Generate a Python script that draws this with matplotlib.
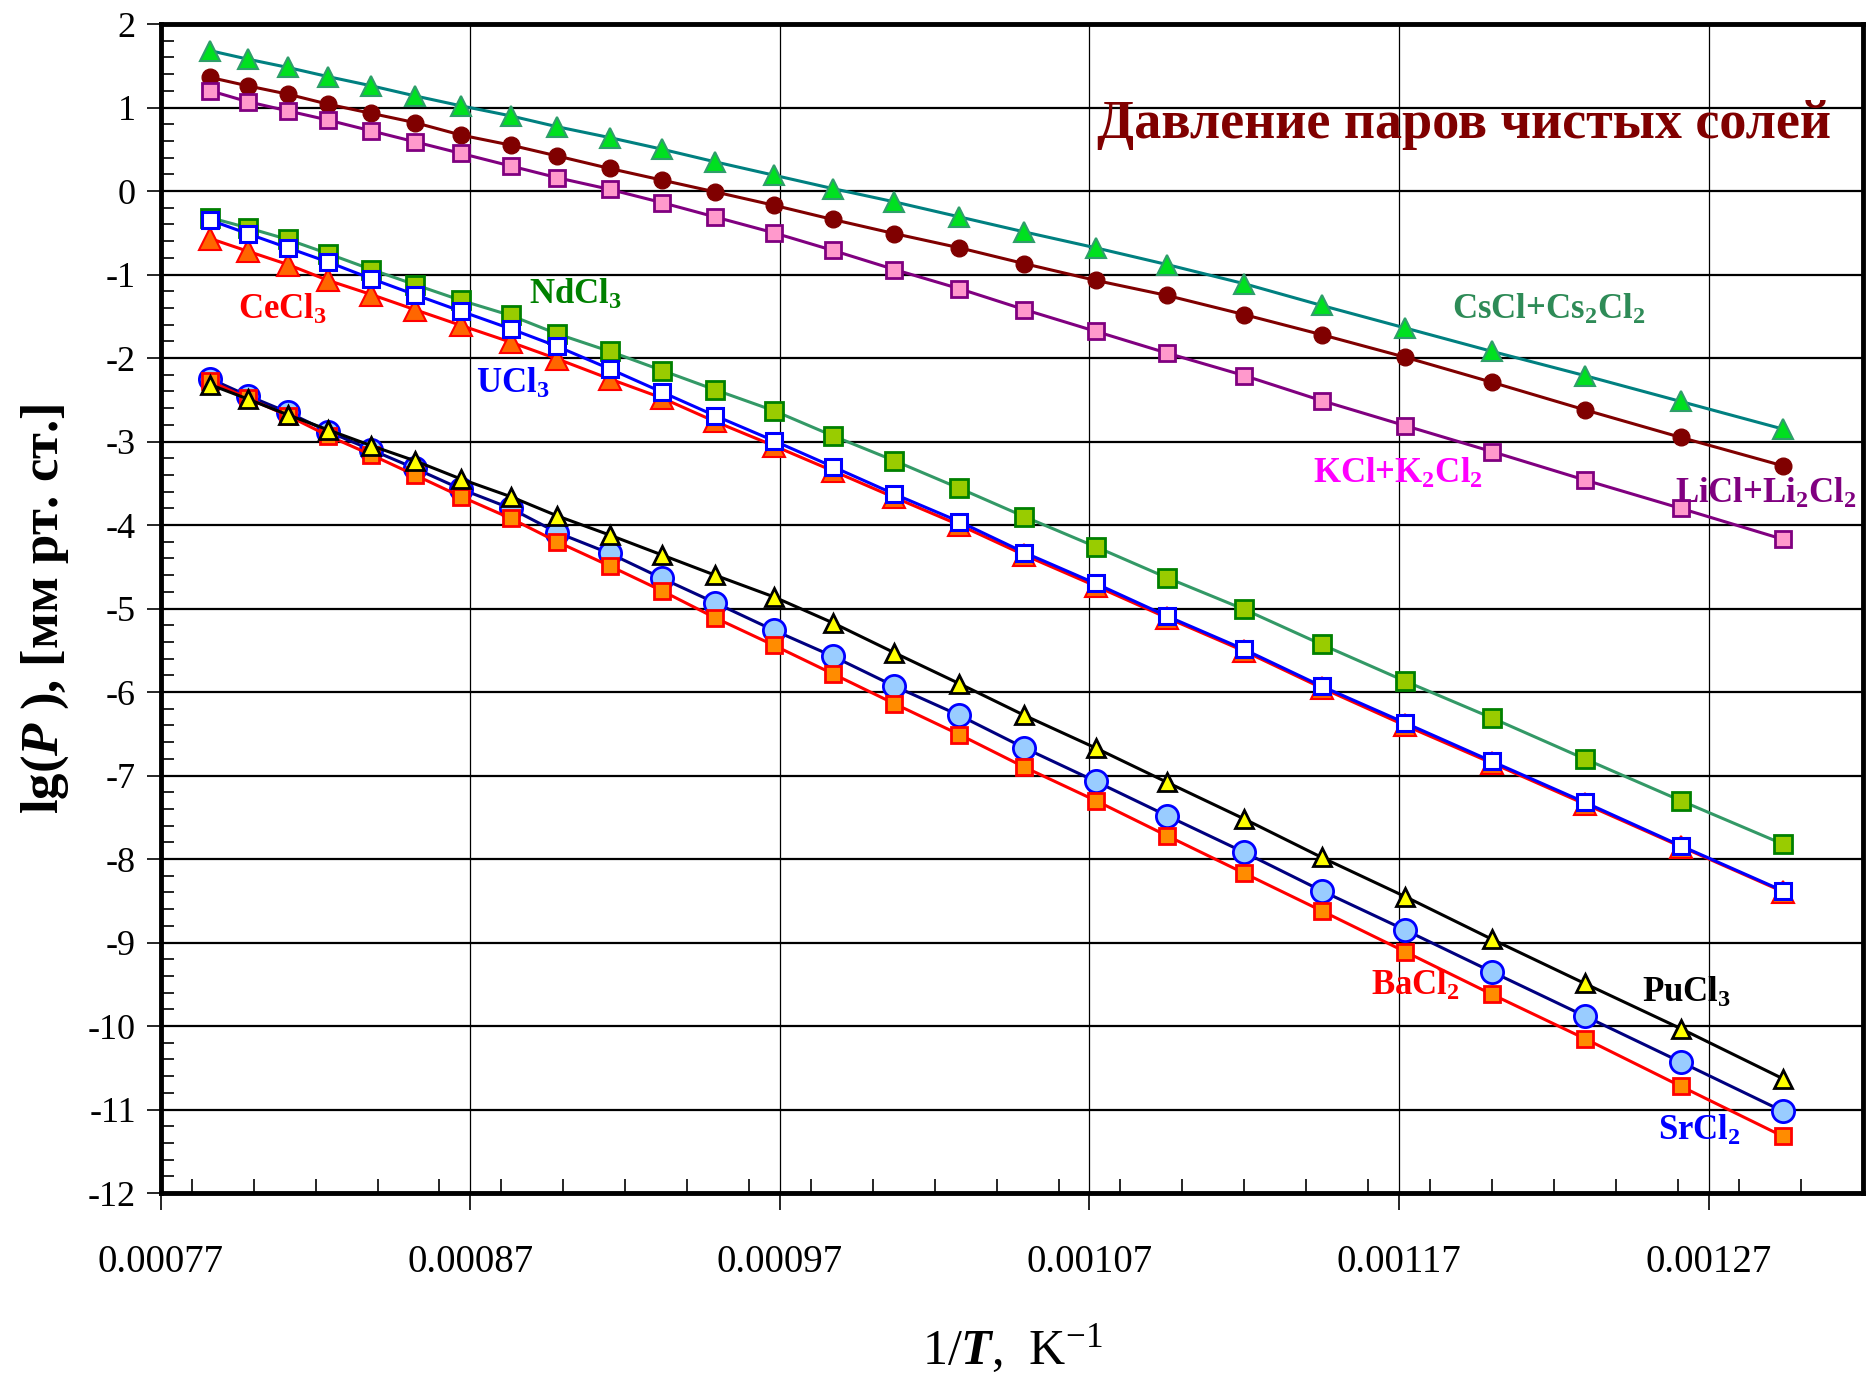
import matplotlib
matplotlib.use("Agg")
import matplotlib.pyplot as plt
from matplotlib.ticker import FixedLocator, MultipleLocator

plt.rcParams.update({
    "font.family": "Liberation Serif",
    "mathtext.fontset": "custom",
    "mathtext.rm": "Liberation Serif",
    "mathtext.it": "Liberation Serif:italic:bold",
    "mathtext.bf": "Liberation Serif:bold",
    "axes.unicode_minus": False,
})

# 1/T, K^-1
inv_T = [0.000786, 0.000798, 0.000811, 0.000824, 0.000838, 0.000852,
         0.000867, 0.000883, 0.000898, 0.000915, 0.000932, 0.000949,
         0.000968, 0.000987, 0.001007, 0.001028, 0.001049, 0.001072,
         0.001095, 0.001120, 0.001145, 0.001172, 0.001200, 0.001230,
         0.001261, 0.001294]

# lg(P), mm Hg
cscl = [1.68, 1.58, 1.48, 1.37, 1.26, 1.14, 1.02, 0.90, 0.77, 0.64, 0.50, 0.35,
        0.19, 0.03, -0.13, -0.31, -0.49, -0.68, -0.88, -1.11, -1.37, -1.64,
        -1.92, -2.21, -2.52, -2.85]
licl = [1.36, 1.26, 1.16, 1.04, 0.93, 0.82, 0.67, 0.55, 0.42, 0.27, 0.13, -0.01,
        -0.17, -0.34, -0.51, -0.68, -0.87, -1.07, -1.25, -1.48, -1.72, -1.99,
        -2.29, -2.62, -2.95, -3.29]
kcl = [1.20, 1.07, 0.96, 0.85, 0.72, 0.59, 0.45, 0.30, 0.16, 0.02, -0.14, -0.31,
       -0.50, -0.71, -0.94, -1.17, -1.42, -1.68, -1.94, -2.21, -2.51, -2.81,
       -3.12, -3.46, -3.80, -4.17]
ndcl3 = [-0.32, -0.44, -0.58, -0.75, -0.94, -1.12, -1.31, -1.49, -1.71, -1.92,
         -2.15, -2.38, -2.63, -2.93, -3.23, -3.56, -3.90, -4.26, -4.63, -5.01,
         -5.43, -5.87, -6.31, -6.80, -7.30, -7.82]
ucl3 = [-0.35, -0.51, -0.68, -0.85, -1.05, -1.24, -1.44, -1.65, -1.86, -2.13,
        -2.41, -2.69, -2.99, -3.30, -3.63, -3.96, -4.33, -4.70, -5.09, -5.49,
        -5.93, -6.37, -6.83, -7.32, -7.84, -8.38]
cecl3 = [-0.57, -0.72, -0.88, -1.07, -1.24, -1.42, -1.61, -1.81, -2.01, -2.25,
         -2.48, -2.76, -3.05, -3.35, -3.67, -4.00, -4.36, -4.73, -5.11, -5.51,
         -5.95, -6.40, -6.85, -7.34, -7.85, -8.39]
srcl2 = [-2.25, -2.45, -2.65, -2.88, -3.10, -3.32, -3.57, -3.80, -4.09, -4.34,
         -4.64, -4.93, -5.26, -5.57, -5.93, -6.28, -6.67, -7.07, -7.48, -7.92,
         -8.38, -8.85, -9.35, -9.88, -10.43, -11.02]
bacl2 = [-2.28, -2.48, -2.69, -2.93, -3.16, -3.40, -3.66, -3.92, -4.20, -4.49,
         -4.79, -5.11, -5.44, -5.78, -6.14, -6.51, -6.90, -7.30, -7.72, -8.17,
         -8.62, -9.11, -9.62, -10.15, -10.72, -11.32]
pucl3 = [-2.32, -2.49, -2.68, -2.86, -3.05, -3.23, -3.45, -3.66, -3.89, -4.12,
         -4.36, -4.60, -4.86, -5.17, -5.53, -5.90, -6.28, -6.67, -7.08, -7.52,
         -7.98, -8.45, -8.96, -9.49, -10.03, -10.63]

x_ticks = [0.00077, 0.00087, 0.00097, 0.00107, 0.00117, 0.00127]
x_ticklabels = ["0.00077", "0.00087", "0.00097", "0.00107", "0.00117", "0.00127"]

fig = plt.figure(figsize=(18.67, 13.81), dpi=100)
ax = fig.add_axes([0.0862, 0.1361, 0.9118, 0.8465])

# upper group
ax.plot(inv_T, cscl, '-^', color='#008080', lw=2.2, ms=14, mfc='#00E020', mec='#2E9E6A', mew=1.5)
ax.plot(inv_T, licl, '-o', color='#800000', lw=2.2, ms=12, mfc='#800000', mec='#800000')
ax.plot(inv_T, kcl, '-s', color='#800080', lw=2.2, ms=11, mfc='#FF99CC', mec='#800080', mew=2)
# middle group
ax.plot(inv_T, cecl3, '-^', color='#FF0000', lw=2.2, ms=16, mfc='#FF6600', mec='#FF0000', mew=1.5)
ax.plot(inv_T, ndcl3, '-s', color='#339966', lw=2.2, ms=13, mfc='#99CC00', mec='#008000', mew=2)
ax.plot(inv_T, ucl3, '-s', color='#0000FF', lw=2.2, ms=12, mfc='white', mec='#0000FF', mew=2.2)
# lower group
ax.plot(inv_T, srcl2, '-o', color='#000080', lw=2.2, ms=16, mfc='#99CCFF', mec='#0000FF', mew=2)
ax.plot(inv_T, bacl2, '-s', color='#FF0000', lw=2.2, ms=11, mfc='#FF8C00', mec='#FF0000', mew=2)
ax.plot(inv_T, pucl3, '-^', color='#000000', lw=2.2, ms=13, mfc='#FFFF00', mec='#000000', mew=2)

ax.set_xlim(0.00077, 0.00132)
ax.set_ylim(-12, 2)
ax.xaxis.set_major_locator(FixedLocator(x_ticks))
ax.xaxis.set_minor_locator(MultipleLocator(0.00002))
ax.set_xticklabels(x_ticklabels)
ax.yaxis.set_major_locator(MultipleLocator(1))
ax.yaxis.set_minor_locator(MultipleLocator(0.2))

ax.tick_params(axis='x', which='major', direction='out', length=12, width=1.2,
               labelsize=28, pad=25)
ax.tick_params(axis='x', which='minor', direction='in', length=10, width=1.2)
ax.tick_params(axis='y', which='major', direction='out', length=10, width=1.2,
               labelsize=26, pad=8)
ax.tick_params(axis='y', which='minor', direction='in', length=9, width=1.2)

ax.grid(True, axis='y', which='major', color='black', lw=1.6)
ax.grid(True, axis='x', which='major', color='black', lw=0.9)
ax.set_axisbelow(True)
for s in ax.spines.values():
    s.set_linewidth(3.5)

ax.set_xlabel(r'1/$\mathit{T}$,  K$^{\mathrm{-1}}$', fontsize=36, labelpad=30)
ax.set_ylabel(r'lg($\mathit{P}$ ), [мм рт. ст.]', fontsize=38, fontweight='bold', labelpad=12)

ax.text(0.001191, 0.79, 'Давление паров чистых солей', color='#800000',
        fontsize=39, fontweight='bold', ha='center', va='center')
lab = dict(fontsize=25, fontweight='bold', ha='center', va='center')
ax.text(0.0012185, -1.42, r'CsCl+Cs$_\mathbf{2}$Cl$_\mathbf{2}$', color='#2E8B57', **lab)
ax.text(0.0012885, -3.63, r'LiCl+Li$_\mathbf{2}$Cl$_\mathbf{2}$', color='#800080', **lab)
ax.text(0.0011696, -3.39, r'KCl+K$_\mathbf{2}$Cl$_\mathbf{2}$', color='#FF00FF', **lab)
ax.text(0.0009038, -1.24, r'NdCl$_\mathbf{3}$', color='#008000', **lab)
ax.text(0.0008092, -1.42, r'CeCl$_\mathbf{3}$', color='#FF0000', **lab)
ax.text(0.0008838, -2.31, r'UCl$_\mathbf{3}$', color='#0000FF', **lab)
ax.text(0.0011754, -9.52, r'BaCl$_\mathbf{2}$', color='#FF0000', **lab)
ax.text(0.0012630, -9.60, r'PuCl$_\mathbf{3}$', color='#000000', **lab)
ax.text(0.0012670, -11.26, r'SrCl$_\mathbf{2}$', color='#0000FF', **lab)

fig.savefig('out.png', dpi=100)
